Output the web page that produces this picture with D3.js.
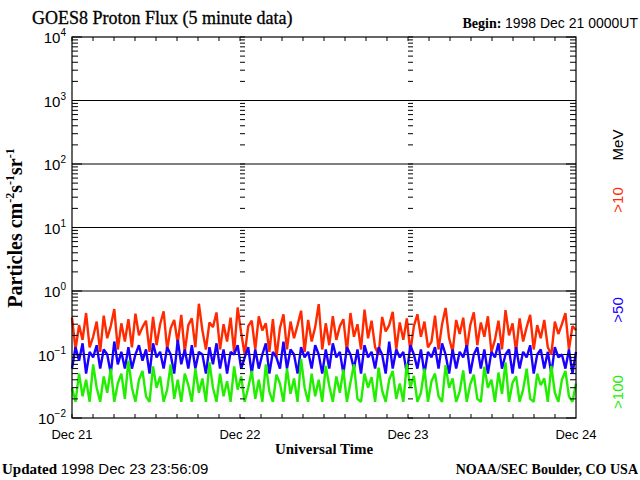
<!DOCTYPE html>
<html><head><meta charset="utf-8">
<script src="https://cdn.jsdelivr.net/npm/d3@7"></script>
<style>body{margin:0;background:#fff}</style>
</head><body>
<svg id="chart" width="640" height="480"></svg>
<script>
// values, ~30 min sampling over 3 days
const dayLabels = ['Dec 21', 'Dec 22', 'Dec 23', 'Dec 24'];
const decades = [-2, -1, 0, 1, 2, 3, 4];
const p10 = [0.38,0.12,0.29,0.17,0.45,0.13,0.19,0.33,0.11,0.41,0.18,0.28,0.52,0.12,0.31,0.16,0.36,0.13,0.44,0.2,
  0.27,0.34,0.11,0.39,0.14,0.3,0.48,0.12,0.26,0.35,0.15,0.42,0.11,0.29,0.37,0.13,0.63,0.24,0.12,0.32,
  0.27,0.46,0.12,0.3,0.16,0.38,0.11,0.55,0.22,0.1,0.28,0.34,0.12,0.4,0.24,0.31,0.11,0.36,0.09,0.26,
  0.43,0.12,0.33,0.18,0.29,0.49,0.11,0.35,0.16,0.27,0.62,0.12,0.31,0.14,0.4,0.17,0.28,0.36,0.11,0.45,
  0.19,0.3,0.12,0.51,0.18,0.34,0.13,0.1,0.39,0.23,0.29,0.47,0.12,0.32,0.17,0.37,0.11,0.28,0.43,0.19,
  0.33,0.13,0.16,0.41,0.12,0.3,0.54,0.18,0.11,0.35,0.21,0.38,0.12,0.29,0.46,0.14,0.32,0.19,0.4,0.11,
  0.17,0.34,0.12,0.5,0.2,0.31,0.11,0.37,0.16,0.27,0.42,0.12,0.29,0.18,0.35,0.13,0.1,0.33,0.21,0.3,
  0.45,0.12,0.28,0.24];
const p50 = [0.06,0.13,0.08,0.15,0.05,0.11,0.09,0.14,0.06,0.12,0.1,0.05,0.16,0.07,0.11,0.06,0.13,0.06,0.1,0.14,
  0.08,0.12,0.05,0.15,0.09,0.11,0.06,0.13,0.1,0.05,0.17,0.07,0.12,0.06,0.14,0.06,0.11,0.1,0.05,0.13,
  0.07,0.15,0.06,0.12,0.05,0.11,0.1,0.14,0.06,0.09,0.13,0.05,0.12,0.06,0.1,0.15,0.05,0.11,0.09,0.06,
  0.16,0.06,0.12,0.1,0.05,0.13,0.09,0.11,0.06,0.14,0.1,0.05,0.12,0.06,0.15,0.09,0.11,0.05,0.13,0.1,
  0.06,0.12,0.05,0.14,0.09,0.11,0.06,0.13,0.1,0.05,0.16,0.06,0.12,0.09,0.11,0.05,0.14,0.1,0.06,0.12,
  0.05,0.11,0.09,0.13,0.06,0.15,0.1,0.05,0.12,0.06,0.11,0.09,0.14,0.05,0.1,0.13,0.06,0.12,0.05,0.11,
  0.09,0.15,0.06,0.1,0.12,0.05,0.13,0.06,0.11,0.09,0.14,0.05,0.1,0.12,0.06,0.11,0.05,0.13,0.09,0.1,
  0.06,0.12,0.05,0.11];
const p100 = [0.03,0.018,0.05,0.022,0.04,0.018,0.07,0.03,0.018,0.045,0.025,0.06,0.018,0.035,0.05,0.02,0.08,0.03,0.018,0.04,
  0.055,0.022,0.018,0.065,0.03,0.045,0.018,0.028,0.07,0.02,0.04,0.018,0.05,0.033,0.018,0.06,0.025,0.042,0.018,0.075,
  0.03,0.018,0.05,0.022,0.038,0.018,0.065,0.028,0.045,0.018,0.03,0.055,0.02,0.04,0.018,0.07,0.026,0.018,0.048,0.035,
  0.018,0.06,0.024,0.042,0.018,0.085,0.03,0.018,0.05,0.022,0.04,0.018,0.066,0.032,0.018,0.045,0.025,0.058,0.018,0.036,
  0.07,0.02,0.018,0.05,0.03,0.044,0.018,0.062,0.027,0.018,0.04,0.055,0.02,0.035,0.018,0.072,0.03,0.046,0.018,0.025,
  0.06,0.018,0.038,0.05,0.022,0.018,0.068,0.03,0.042,0.018,0.026,0.056,0.018,0.034,0.048,0.02,0.018,0.064,0.03,0.04,
  0.018,0.052,0.024,0.075,0.018,0.036,0.045,0.018,0.028,0.06,0.02,0.018,0.05,0.033,0.042,0.018,0.066,0.025,0.018,0.04,
  0.055,0.022,0.018,0.035];

const L = 72, R = 576, T = 37, B = 418;
const svg = d3.select('#chart');
const x = d3.scaleLinear().domain([0, 3]).range([L, R]);
const y = d3.scaleLog().domain([1e-2, 1e4]).range([B, T]);
const sans = 'Liberation Sans, Arial, sans-serif';
const serif = 'Liberation Serif, Times New Roman, serif';

// grid lines at decades
svg.append('g').selectAll('line').data(decades.slice(1, -1)).join('line')
  .attr('x1', L).attr('x2', R).attr('y1', d => y(10 ** d)).attr('y2', d => y(10 ** d))
  .attr('stroke', '#000').attr('stroke-width', 1.2);

// series
const series = [[p10, '#ff2a00'], [p50, '#1a00ff'], [p100, '#22ee00']];
series.forEach(([vals, col]) => {
  const line = d3.line().x((d, i) => x(i * 3 / (vals.length - 1))).y(d => y(d));
  svg.append('path').datum(vals).attr('d', line)
    .attr('fill', 'none').attr('stroke', col).attr('stroke-width', 2.4).attr('stroke-linejoin', 'bevel');
});

// minor log ticks
const minors = [];
decades.forEach(d => { for (let k = 1; k < 10; k++) if (d < 4 || k == 1) minors.push({ v: k * 10 ** d, k }); });
const g = svg.append('g').attr('stroke', '#000');
[L, x(1), x(2), R].forEach((px, j) => {
  minors.forEach(m => {
    const len = m.k == 1 ? 10 : 6;
    if (j == 0 || j == 3) {
      const dir = j == 0 ? 1 : -1;
      g.append('line').attr('x1', px).attr('x2', px + dir * len).attr('y1', y(m.v)).attr('y2', y(m.v));
    } else {
      g.append('line').attr('x1', px).attr('x2', px + 5).attr('y1', y(m.v)).attr('y2', y(m.v));
    }
  });
});
// 3-hour ticks
d3.range(0, 24).forEach(h => {
  const px = x(h / 8);
  g.append('line').attr('x1', px).attr('x2', px).attr('y1', T).attr('y2', T + 4);
  g.append('line').attr('x1', px).attr('x2', px).attr('y1', B).attr('y2', B - 4);
});
// frame
svg.append('rect').attr('x', L).attr('y', T).attr('width', R - L).attr('height', B - T)
  .attr('fill', 'none').attr('stroke', '#000').attr('stroke-width', 1.2);

// y tick labels
const yl = svg.append('g').attr('font-family', sans).attr('font-size', 15);
decades.forEach(d => {
  const t = yl.append('text').attr('x', L - 6).attr('y', y(10 ** d) + 6).attr('text-anchor', 'end');
  t.append('tspan').text('10');
  t.append('tspan').attr('dy', -7).attr('font-size', 10).text(d < 0 ? '\u2212' + (-d) : d);
});
// x labels
dayLabels.forEach((s, i) => svg.append('text').attr('x', x(i)).attr('y', 439)
  .attr('text-anchor', 'middle').attr('font-family', sans).attr('font-size', 13).text(s));

svg.append('text').attr('x', 324).attr('y', 454).attr('text-anchor', 'middle')
  .attr('font-family', serif).attr('font-weight', 'bold').attr('font-size', 15).text('Universal Time');
svg.append('text').attr('x', 32).attr('y', 24).attr('font-family', serif).attr('font-size', 18)
  .attr('stroke', '#000').attr('stroke-width', 0.3).text('GOES8 Proton Flux (5 minute data)');
const bg = svg.append('text').attr('x', 638).attr('y', 28).attr('text-anchor', 'end').attr('font-size', 14);
bg.append('tspan').attr('font-family', serif).attr('font-weight', 'bold').text('Begin: ');
bg.append('tspan').attr('font-family', sans).text('1998 Dec 21  0000UT');
const up = svg.append('text').attr('x', 2).attr('y', 474).attr('font-size', 15);
up.append('tspan').attr('font-family', serif).attr('font-weight', 'bold').text('Updated ');
up.append('tspan').attr('font-family', sans).text('1998 Dec 23 23:56:09');
svg.append('text').attr('x', 638).attr('y', 474).attr('text-anchor', 'end').attr('font-family', serif)
  .attr('font-weight', 'bold').attr('font-size', 14).text('NOAA/SEC Boulder, CO USA');

// y axis title
const yt = svg.append('text').attr('transform', 'translate(22,228) rotate(-90)').attr('text-anchor', 'middle')
  .attr('font-family', serif).attr('font-weight', 'bold').attr('font-size', 20);
yt.append('tspan').text('Particles cm');
yt.append('tspan').attr('dy', -8).attr('font-size', 12).text('-2');
yt.append('tspan').attr('dy', 8).text('s');
yt.append('tspan').attr('dy', -8).attr('font-size', 12).text('-1');
yt.append('tspan').attr('dy', 8).text('sr');
yt.append('tspan').attr('dy', -8).attr('font-size', 12).text('-1');

// right side energy labels
[['MeV', '#000', 145], ['>10', '#ff2a00', 200], ['>50', '#1a00ff', 310], ['>100', '#22ee00', 392]].forEach(([s, c, cy]) =>
  svg.append('text').attr('transform', `translate(623,${cy}) rotate(-90)`).attr('text-anchor', 'middle')
    .attr('font-family', sans).attr('font-size', 15).attr('fill', c).text(s));
</script>
</body></html>
